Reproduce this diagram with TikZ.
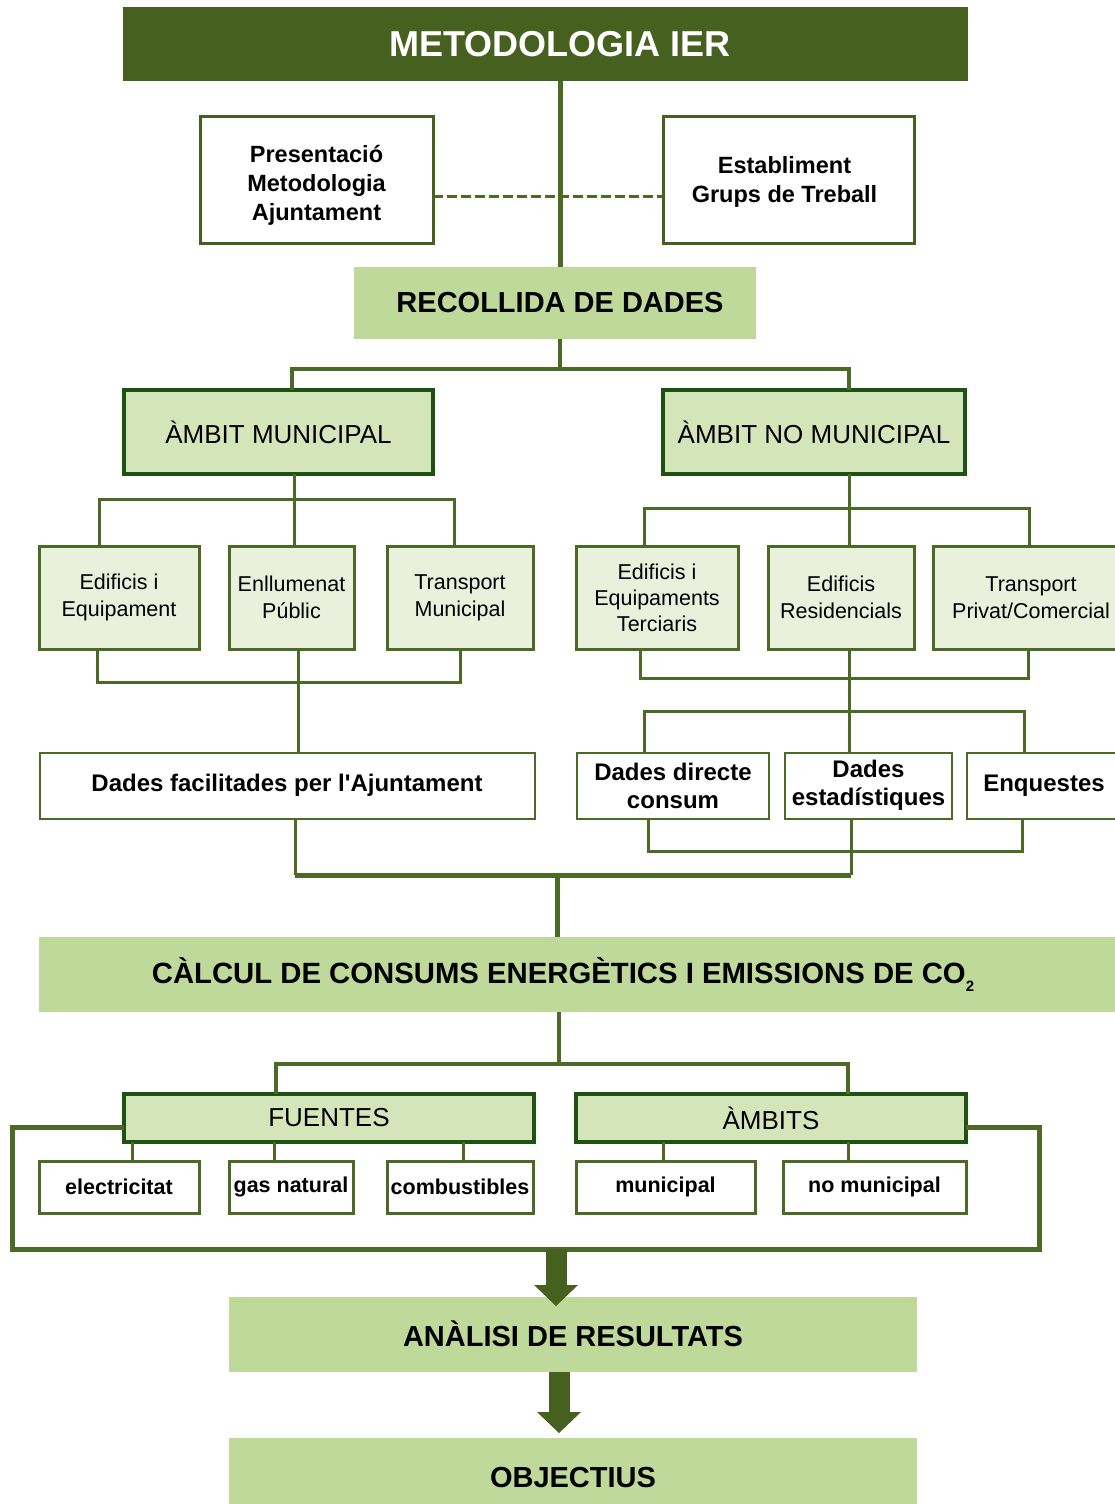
\documentclass[tikz,border=0pt]{standalone}
\usepackage{fontspec}
\setmainfont{Liberation Sans}
\usetikzlibrary{arrows.meta}
\definecolor{dkg}{HTML}{466020}
\definecolor{ln}{HTML}{4B6A26}
\definecolor{bd}{HTML}{1F5212}
\definecolor{lg}{HTML}{BFD99B}
\definecolor{mg}{HTML}{D5E5BA}
\definecolor{pg}{HTML}{E9F1DC}
\begin{document}
\begin{tikzpicture}[x=1pt,y=-1pt,
  every node/.style={inner sep=0pt, outer sep=0pt, align=center, text=black},
  titlebox/.style={rectangle, fill=dkg},
  stagebox/.style={rectangle, fill=lg},
  wbox/.style={rectangle, fill=white, draw=dkg, line width=3pt},
  ambitbox/.style={rectangle, fill=mg, draw=bd, line width=3.5pt, font=\fontsize{26}{30}\selectfont},
  subbox/.style={rectangle, fill=pg, draw=ln, line width=3pt, font=\fontsize{21.5}{27}\selectfont},
  databox/.style={rectangle, fill=white, draw=ln, line width=2pt, font=\bfseries\fontsize{24}{28}\selectfont},
  srcbox/.style={rectangle, fill=white, draw=ln, line width=3pt, font=\bfseries\fontsize{21.5}{26}\selectfont, minimum height=52pt},
  stagetext/.style={font=\bfseries\fontsize{29}{32}\selectfont},
  conn/.style={draw=ln, line width=3pt},
  dashconn/.style={draw=ln, line width=3pt, dash pattern=on 10pt off 4pt},
  frameline/.style={draw=ln, line width=5pt},
  bigarrow/.style={draw=dkg, line width=21pt, -{Triangle[length=21pt,width=44pt,line width=0pt]}}
]
\useasboundingbox (0,0) rectangle (1115,1504);

% ---- boxes ----
\node[titlebox, minimum width=845pt, minimum height=74pt] (title) at (545.5,44) {};
\node[font=\bfseries\fontsize{36}{40}\selectfont, text=white] (titletxt) at (560,44) {METODOLOGIA IER};

\node[wbox, minimum width=233pt, minimum height=127pt, font=\bfseries\fontsize{23.5}{29}\selectfont] (pres) at (316.5,180) {\raisebox{-6pt}[\height][\depth]{\begin{tabular}{@{}c@{}}Presentació\\Metodologia\\Ajuntament\end{tabular}}};
\node[wbox, minimum width=251pt, minimum height=127pt, font=\bfseries\fontsize{23.5}{29}\selectfont] (estab) at (788.5,180) {\hspace*{-8pt}\raisebox{-2pt}[\height][\depth]{\begin{tabular}{@{}c@{}}Establiment\\Grups de Treball\end{tabular}}};

\node[stagebox, minimum width=402pt, minimum height=72pt] (recoll) at (555,303) {};
\node[stagetext] (recolltxt) at (560,303) {RECOLLIDA DE DADES};

\node[ambitbox, minimum width=309pt, minimum height=84pt] (ambm) at (278.5,432) {ÀMBIT MUNICIPAL};
\node[ambitbox, minimum width=302pt, minimum height=84pt] (ambnm) at (814,432) {ÀMBIT NO MUNICIPAL};

\node[subbox, minimum width=160pt, minimum height=103pt] (edif) at (119,597.5) {Edificis i\\Equipament};
\node[subbox, minimum width=125pt, minimum height=103pt] (enll) at (291.5,597.5) {Enllumenat\\Públic};
\node[subbox, minimum width=146pt, minimum height=103pt] (trmun) at (460,597.5) {Transport\\Municipal};
\node[subbox, minimum width=162pt, minimum height=103pt, font=\fontsize{21.5}{26}\selectfont] (edter) at (657,597.5) {Edificis i\\Equipaments\\Terciaris};
\node[subbox, minimum width=146pt, minimum height=103pt] (edres) at (841,597.5) {Edificis\\Residencials};
\node[subbox, minimum width=196pt, minimum height=103pt] (trpriv) at (1031,597.5) {Transport\\Privat/Comercial};

\node[databox, minimum width=495pt, minimum height=66pt] (dfac) at (287,785.5) {Dades facilitades per l\textquotesingle Ajuntament};
\node[databox, minimum width=192pt, minimum height=66pt] (ddir) at (673,785.5) {Dades directe\\consum};
\node[databox, minimum width=167pt, minimum height=66pt] (dest) at (868.5,785.5) {Dades\\estadístiques};
\node[databox, minimum width=154pt, minimum height=66pt] (enq) at (1044,785.5) {Enquestes};

\node[stagebox, minimum width=1086pt, minimum height=75pt] (calc) at (582,974.5) {};
\node[font=\bfseries\fontsize{29.3}{32}\selectfont] (calctxt) at (563,975) {CÀLCUL DE CONSUMS ENERGÈTICS I EMISSIONS DE CO\raisebox{-8pt}{\fontsize{15}{15}\selectfont 2}};

\node[ambitbox, minimum width=410pt, minimum height=48pt] (fuentes) at (329,1118) {FUENTES};
\node[ambitbox, minimum width=390pt, minimum height=48pt] (ambits) at (771,1118) {ÀMBITS};

\node[srcbox, minimum width=160pt] (elec) at (119,1187) {electricitat};
\node[srcbox, minimum width=124pt] (gas) at (291,1187) {gas natural};
\node[srcbox, minimum width=146pt] (comb) at (460,1187) {combustibles};
\node[srcbox, minimum width=179pt] (mun) at (665.5,1187) {municipal};
\node[srcbox, minimum width=183pt] (nomun) at (874.5,1187) {no municipal};

\node[stagebox, stagetext, minimum width=688pt, minimum height=75pt] (anal) at (573,1334.5) {\raisebox{2pt}{ANÀLISI DE RESULTATS}};
\node[stagebox, stagetext, minimum width=688pt, minimum height=78pt] (obj) at (573,1477) {OBJECTIUS};

% ---- helper coordinates ----
\coordinate (sx) at (560,0);
\coordinate (dy) at (0,196);
\coordinate (j1) at (560,369);
\coordinate (x292) at (292,0);
\coordinate (x849) at (849,0);
\coordinate (j2) at (294,499);
\coordinate (x99) at (99,0);
\coordinate (x454) at (454,0);
\coordinate (j3) at (298,682);
\coordinate (x97) at (97,0);
\coordinate (x460) at (460,0);
\coordinate (j4) at (849,508);
\coordinate (x644) at (644,0);
\coordinate (x1029) at (1029,0);
\coordinate (j5) at (849,678);
\coordinate (x640) at (640,0);
\coordinate (x1028) at (1028,0);
\coordinate (j6) at (849,711);
\coordinate (x1024) at (1024,0);
\coordinate (j7) at (851,851);
\coordinate (x648) at (648,0);
\coordinate (x1022) at (1022,0);
\coordinate (j8) at (851,875);
\coordinate (x295) at (295,0);
\coordinate (x557) at (557,0);
\coordinate (j9) at (559,1064);
\coordinate (x276) at (276,0);
\coordinate (x848) at (848,0);
\coordinate (x132) at (132,0);
\coordinate (x274) at (274,0);
\coordinate (x463) at (463,0);
\coordinate (x663) at (663,0);
\coordinate (fy) at (0,1127);
\coordinate (fl) at (12,1127);
\coordinate (fr) at (1039,1249);
\coordinate (a1) at (556,1249);
\coordinate (a2) at (559,0);

% ---- connectors ----
\draw[dashconn] (pres.east |- dy) -- (estab.west |- dy);
\draw[conn, line width=5pt] (title.south -| sx) -- (recoll.north -| sx);

\draw[conn, line width=4pt] (recoll.south -| sx) -- (j1);
\draw[conn, line width=4pt] (ambm.north -| x292) |- (j1) -| (ambnm.north -| x849);

\draw[conn] (ambm.south -| j2) -- (enll.north -| j2);
\draw[conn] (edif.north -| x99) |- (j2) -| (trmun.north -| x454);
\draw[conn] (edif.south -| x97) |- (j3) -| (trmun.south -| x460);
\draw[conn] (enll.south -| j3) -- (dfac.north -| j3);

\draw[conn] (ambnm.south -| j4) -- (edres.north -| j4);
\draw[conn] (edter.north -| x644) |- (j4) -| (trpriv.north -| x1029);
\draw[conn] (edter.south -| x640) |- (j5) -| (trpriv.south -| x1028);
\draw[conn] (edres.south -| j5) -- (dest.north -| j5);
\draw[conn] (ddir.north -| x644) |- (j6) -| (enq.north -| x1024);

\draw[conn] (ddir.south -| x648) |- (j7) -| (enq.south -| x1022);
\draw[conn] (dest.south -| j8) -- (j8);
\draw[conn] (dfac.south -| x295) -- (x295 |- j8);
\draw[conn, line width=5pt] (x295 |- j8) -- (j8);
\draw[conn, line width=5pt] (x557 |- j8) -- (calc.north -| x557);

\draw[conn, line width=4pt] (calc.south -| j9) -- (j9);
\draw[conn, line width=4pt] (fuentes.north -| x276) |- (j9) -| (ambits.north -| x848);

\draw[conn] (fuentes.south -| x132) -- (elec.north -| x132);
\draw[conn] (fuentes.south -| x274) -- (gas.north -| x274);
\draw[conn] (fuentes.south -| x463) -- (comb.north -| x463);
\draw[conn] (ambits.south -| x663) -- (mun.north -| x663);
\draw[conn] (ambits.south -| x848) -- (nomun.north -| x848);

\draw[frameline] (fuentes.west |- fy) -- (fl) |- (fr) -- (fr |- fy) -- (ambits.east |- fy);

\draw[bigarrow, shorten >=-9pt] (a1) -- (anal.north -| a1);
\draw[bigarrow, shorten >=5pt] (anal.south -| a2) -- (obj.north -| a2);
\end{tikzpicture}
\end{document}
